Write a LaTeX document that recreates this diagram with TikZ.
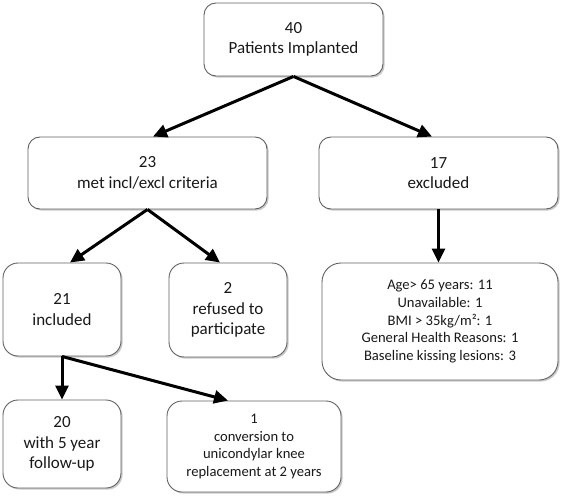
\documentclass[tikz,border=0pt]{standalone}
\usepackage{fontspec}
\setmainfont{Carlito}
\usetikzlibrary{arrows.meta,shadows}
\begin{document}
\begin{tikzpicture}[x=1pt,y=-1pt,
  box/.style={draw=black!62, line width=0.9pt, fill=white, align=center, inner sep=0pt,
    text=black!90, drop shadow={shadow xshift=1.6pt, shadow yshift=-1.6pt, opacity=0.35, fill=black!60}},
  big/.style={font=\fontsize{17}{20.7}\selectfont},
  small/.style={font=\fontsize{14.6}{17.7}\selectfont},
  arr/.style={line width=3pt, -{Triangle[length=14pt,width=13pt]}}]
\useasboundingbox (0,0) rectangle (565,500);
\node[box,big,rounded corners=12pt,minimum width=179pt,minimum height=73pt] (top) at (293.5,39.5) {40\\Patients Implanted};
\node[box,big,rounded corners=12pt,minimum width=239pt,minimum height=72pt] (n23) at (147.5,173) {23\\met incl/excl criteria};
\node[box,big,rounded corners=12pt,minimum width=239pt,minimum height=72pt] (n17) at (438.5,173) {17\\excluded};
\node[box,big,rounded corners=15pt,minimum width=118pt,minimum height=93pt] (n21) at (62,309.5) {21\\included};
\node[box,big,rounded corners=15pt,minimum width=118pt,minimum height=94pt] (n2) at (228,310) {2\\refused to\\participate};
\node[box,small,rounded corners=19pt,minimum width=236pt,minimum height=117pt] (nage) at (440,321.5) {Age> 65 years: 11\\Unavailable: 1\\BMI > 35kg/m²: 1\\General Health Reasons: 1\\Baseline kissing lesions: 3};
\node[box,big,rounded corners=15pt,minimum width=118pt,minimum height=88pt] (n20) at (62,444) {20\\with 5 year\\follow-up};
\node[box,small,rounded corners=15pt,minimum width=174pt,minimum height=91pt] (n1) at (254,446.5) {1\\conversion to\\unicondylar knee\\replacement at 2 years};
\draw[arr] (top.south) -- ([xshift=5.5pt]n23.north);
\draw[arr] (top.south) -- ([xshift=-6.5pt]n17.north);
\draw[arr] (n23.south) -- ([xshift=8pt]n21.north);
\draw[arr] (n23.south) -- ([xshift=-8pt]n2.north);
\draw[arr] (n17.south) -- (n17.south |- nage.north);
\draw[arr] (n21.south) -- (n20.north);
\draw[arr] (n21.south) -- ([xshift=-26pt]n1.north);
\end{tikzpicture}
\end{document}
